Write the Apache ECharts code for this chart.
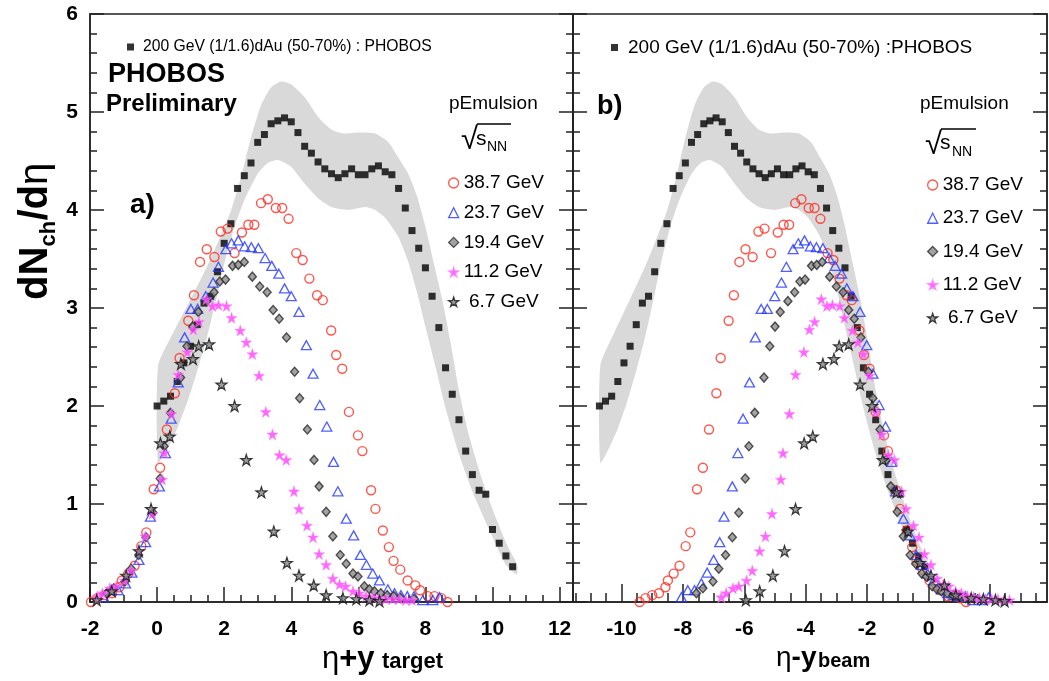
<!DOCTYPE html>
<html><head><meta charset="utf-8">
<script src="https://cdn.jsdelivr.net/npm/echarts@6/dist/echarts.min.js"></script>
<style>html,body{margin:0;padding:0;background:#fff}#c{width:1049px;height:681px}</style>
</head><body><div id="c"></div><script>
// ---------------- DATA (x in eta + y_target) ----------------
const dAuX = [0.0,0.2,0.4,0.6,0.8,1.0,1.2,1.4,1.6,1.8,2.0,2.2,2.4,2.6,2.8,3.0,3.2,3.4,3.6,3.8,4.0,4.2,4.4,4.6,4.8,5.0,5.2,5.4,5.6,5.8,6.0,6.2,6.4,6.6,6.8,7.0,7.2,7.4,7.6,7.8,8.0,8.2,8.4,8.6,8.8,9.0,9.2,9.4,9.6,9.8,10.0,10.2,10.4,10.6];
const dAuY = [2.00,2.05,2.10,2.25,2.44,2.61,2.83,3.05,3.12,3.37,3.66,3.86,4.22,4.35,4.48,4.69,4.77,4.88,4.91,4.94,4.90,4.79,4.65,4.58,4.49,4.42,4.37,4.33,4.37,4.42,4.36,4.36,4.42,4.45,4.39,4.36,4.22,4.02,3.79,3.61,3.41,3.12,2.80,2.39,2.12,1.86,1.54,1.30,1.14,1.10,0.74,0.60,0.47,0.36];
const bandUpper = [[0.03,2.41],[0.5,2.76],[1.0,3.09],[1.5,3.43],[1.9,3.74],[2.2,3.99],[2.5,4.33],[2.8,4.74],[3.1,5.07],[3.4,5.25],[3.7,5.31],[4.0,5.28],[4.4,5.15],[4.8,4.95],[5.2,4.82],[5.6,4.78],[6.0,4.79],[6.5,4.78],[6.9,4.69],[7.2,4.53],[7.5,4.36],[7.75,4.14],[8.0,3.83],[8.25,3.46],[8.5,3.09],[8.75,2.65],[9.0,2.16],[9.3,1.70],[9.7,1.24],[10.1,0.86],[10.45,0.57],[10.74,0.38]];
const bandLower = [[0.03,1.42],[0.3,1.56],[0.6,1.77],[0.9,2.04],[1.2,2.36],[1.5,2.72],[1.8,3.14],[2.05,3.52],[2.3,3.82],[2.6,4.10],[3.0,4.37],[3.3,4.48],[3.6,4.51],[4.0,4.44],[4.4,4.27],[4.8,4.12],[5.2,4.03],[5.7,4.00],[6.2,4.03],[6.5,4.00],[6.8,3.92],[7.2,3.72],[7.5,3.46],[7.75,3.16],[8.0,2.81],[8.3,2.40],[8.6,1.98],[9.0,1.51],[9.4,1.13],[9.9,0.74],[10.4,0.38],[10.72,0.28]];
const em387 = [[-1.97,0.00],[-1.78,0.04],[-1.56,0.07],[-1.34,0.09],[-1.13,0.15],[-1.05,0.22],[-0.86,0.29],[-0.67,0.37],[-0.47,0.57],[-0.32,0.71],[-0.10,1.15],[0.09,1.37],[0.29,1.76],[0.53,2.13],[0.67,2.49],[0.93,2.87],[1.10,3.13],[1.28,3.47],[1.48,3.60],[1.71,3.52],[1.90,3.78],[2.10,3.81],[2.31,3.56],[2.53,3.77],[2.72,3.85],[2.90,3.85],[3.10,4.07],[3.30,4.11],[3.54,4.02],[3.73,4.02],[3.92,3.91],[4.15,3.56],[4.34,3.49],[4.54,3.30],[4.77,3.13],[4.94,3.08],[5.19,2.77],[5.34,2.52],[5.52,2.38],[5.72,1.94],[5.99,1.70],[6.12,1.54],[6.38,1.14],[6.51,0.95],[6.73,0.73],[6.91,0.56],[7.05,0.42],[7.25,0.33],[7.47,0.22],[7.70,0.17],[7.84,0.12],[8.07,0.06],[8.27,0.06],[8.47,0.04],[8.66,0.00]];
const em237 = [[-1.59,0.05],[-1.38,0.12],[-1.16,0.12],[-0.94,0.19],[-0.75,0.30],[-0.54,0.43],[-0.34,0.61],[-0.20,0.87],[0.07,1.18],[0.25,1.52],[0.42,1.87],[0.63,2.24],[0.82,2.70],[1.01,2.99],[1.21,2.99],[1.45,3.12],[1.67,3.26],[1.83,3.42],[2.05,3.60],[2.22,3.66],[2.42,3.69],[2.61,3.63],[2.81,3.62],[3.02,3.61],[3.22,3.51],[3.42,3.43],[3.63,3.35],[3.80,3.20],[4.00,3.12],[4.23,2.96],[4.45,2.62],[4.65,2.33],[4.85,2.01],[5.06,1.79],[5.26,1.43],[5.39,1.13],[5.64,0.85],[5.86,0.68],[6.06,0.48],[6.24,0.38],[6.43,0.29],[6.63,0.22],[6.88,0.13],[7.08,0.09],[7.27,0.07],[7.46,0.06],[7.66,0.06],[7.92,0.02],[8.22,0.02],[8.42,0.05]];
const em194 = [[-1.50,0.09],[-1.29,0.14],[-0.96,0.21],[-0.77,0.34],[-0.55,0.48],[-0.33,0.66],[-0.12,0.91],[0.09,1.26],[0.21,1.59],[0.40,1.93],[0.70,2.29],[0.89,2.61],[1.06,2.81],[1.23,2.96],[1.48,3.07],[1.70,3.16],[1.87,3.27],[2.04,3.29],[2.25,3.43],[2.42,3.44],[2.60,3.47],[2.84,3.32],[3.06,3.22],[3.28,3.16],[3.46,2.98],[3.64,2.89],[3.86,2.70],[4.10,2.35],[4.25,2.08],[4.48,1.76],[4.68,1.45],[4.83,1.18],[5.04,0.92],[5.24,0.67],[5.46,0.48],[5.64,0.39],[5.84,0.29],[5.99,0.26],[6.18,0.16],[6.33,0.13],[6.48,0.11],[6.67,0.09],[6.86,0.07],[7.06,0.06],[7.26,0.04],[7.66,0.03]];
const em112 = [[-1.79,0.05],[-1.63,0.09],[-1.41,0.14],[-1.22,0.16],[-0.97,0.22],[-0.78,0.32],[-0.54,0.52],[-0.35,0.67],[-0.14,0.90],[0.15,1.25],[0.22,1.52],[0.43,1.92],[0.63,2.32],[0.90,2.55],[1.08,2.78],[1.25,2.86],[1.47,3.09],[1.65,3.02],[1.83,3.03],[2.07,3.02],[2.22,2.90],[2.48,2.77],[2.66,2.65],[2.84,2.53],[3.04,2.31],[3.24,1.94],[3.44,1.71],[3.65,1.50],[3.85,1.45],[4.08,1.13],[4.23,0.95],[4.47,0.78],[4.65,0.66],[4.83,0.49],[5.04,0.38],[5.24,0.24],[5.44,0.18],[5.62,0.16],[5.84,0.11],[6.03,0.09],[6.23,0.06],[6.43,0.05],[6.62,0.04],[6.82,0.03],[7.02,0.03],[7.22,0.03],[7.42,0.02],[7.60,0.02]];
const em67 = [[-1.80,0.02],[-1.35,0.11],[-0.92,0.27],[-0.54,0.52],[-0.18,0.95],[0.10,1.62],[0.38,1.69],[0.71,2.43],[1.07,2.48],[1.24,2.61],[1.55,2.63],[1.92,2.22],[2.31,2.00],[2.66,1.45],[3.11,1.12],[3.48,0.72],[3.87,0.40],[4.23,0.27],[4.67,0.17],[5.04,0.07],[5.54,0.04],[5.94,0.03],[6.33,0.02],[6.63,0.01]];
const energies = ['38.7 GeV','23.7 GeV','19.4 GeV','11.2 GeV','6.7 GeV'];
const emData = {'38.7 GeV':em387,'23.7 GeV':em237,'19.4 GeV':em194,'11.2 GeV':em112,'6.7 GeV':em67};
// offset between eta+y_target and eta-y_beam (= beam rapidity in target frame)
const shiftDAu = 10.72;
const shiftEm = {'38.7 GeV':7.44,'23.7 GeV':6.46,'19.4 GeV':6.06,'11.2 GeV':4.96,'6.7 GeV':4.15};
const leftMajor = [-2,0,2,4,6,8,10,12];
const leftMinor = [-1.5,-1,-0.5,0.5,1,1.5,2.5,3,3.5,4.5,5,5.5,6.5,7,7.5,8.5,9,9.5,10.5,11,11.5];
const rightMajor = [-10,-8,-6,-4,-2,0,2];
const rightMinor = [-11.5,-11,-10.5,-9.5,-9,-8.5,-7.5,-7,-6.5,-5.5,-5,-4.5,-3.5,-3,-2.5,-1.5,-1,-0.5,0.5,1,1.5,2.5,3,3.5];

// ---------------- CHART ----------------
const FONT = '"Liberation Sans", Arial, Helvetica, sans-serif';
const LS = {color:'#222', width:1.5};
const STAR = 'path://M50,0 L61.2,34.5 L97.6,34.5 L68.2,55.9 L79.4,90.5 L50,69.1 L20.6,90.5 L31.8,55.9 L2.4,34.5 L38.8,34.5 Z';
const markStyle = {
  '38.7 GeV': {symbol:'circle', size:9, itemStyle:{color:'rgba(255,255,255,0)', borderColor:'#ff2a1f', borderWidth:1.4}},
  '23.7 GeV': {symbol:'triangle', size:[10,9], itemStyle:{color:'rgba(255,255,255,0)', borderColor:'#2236ff', borderWidth:1.3}},
  '19.4 GeV': {symbol:'diamond', size:[8,9], itemStyle:{color:'#8c8c8c', borderColor:'#2a2a2a', borderWidth:1.4}},
  '11.2 GeV': {symbol:STAR, size:11, itemStyle:{color:'#ff40ff', borderColor:'#ff80ff', borderWidth:0.6}},
  '6.7 GeV': {symbol:STAR, size:11, itemStyle:{color:'#858585', borderColor:'#111', borderWidth:1.2}}
};
function xAxes(grid, min, max, major, minor, tickLen, minLen){
  return [
    {type:'value', gridIndex:grid, min:min, max:max, position:'bottom',
     axisLine:{show:true, onZero:false, lineStyle:LS},
     axisTick:{show:true, inside:true, length:tickLen, lineStyle:LS, customValues:major},
     axisLabel:{show:true, customValues:major, fontSize:21, fontWeight:'bold', fontFamily:FONT, color:'#000', margin:17},
     splitLine:{show:false}},
    {type:'value', gridIndex:grid, min:min, max:max, position:'bottom',
     axisLine:{show:false, onZero:false},
     axisTick:{show:true, inside:true, length:minLen, lineStyle:LS, customValues:minor},
     axisLabel:{show:false}, splitLine:{show:false}}
  ];
}
function yAx(grid, pos, labels){
  return {type:'value', gridIndex:grid, position:pos, min:0, max:6, interval:1,
    axisLine:{show:true, onZero:false, lineStyle:LS},
    axisTick:{show:true, inside:true, length:14, lineStyle:LS},
    minorTick:{show:true, splitNumber:5, length:7, lineStyle:LS},
    splitLine:{show:false}, minorSplitLine:{show:false},
    axisLabel:{show:labels, fontSize:21, fontWeight:'bold', fontFamily:FONT, color:'#000', margin:12}};
}
function bandSeries(xi, yi, shift){
  return {type:'custom', name:'band', xAxisIndex:xi, yAxisIndex:yi, z:1, silent:true, data:[[0,1]],
    renderItem:function(params, api){
      const pts = bandUpper.map(p=>api.coord([p[0]-shift,p[1]]))
        .concat(bandLower.slice().reverse().map(p=>api.coord([p[0]-shift,p[1]])));
      return {type:'polygon', shape:{points:pts, smooth:0.2}, style:{fill:'#d9d9d9'}};
    }};
}
const series = [];
[[0,0,0],[2,2,shiftDAu]].forEach(function(cfg){
  series.push(bandSeries(cfg[0], cfg[1], cfg[2]));
  series.push({type:'scatter', name:'dAu', xAxisIndex:cfg[0], yAxisIndex:cfg[1], z:3, symbol:'rect', symbolSize:7,
    itemStyle:{color:'#000'}, data:dAuX.map((x,i)=>[+(x-cfg[2]).toFixed(3), dAuY[i]])});
});
energies.forEach(function(e, k){
  const st = markStyle[e];
  [[0,0,0],[2,2,shiftEm[e]]].forEach(function(cfg){
    series.push({type:'scatter', name:e, xAxisIndex:cfg[0], yAxisIndex:cfg[1], z:4+k,
      symbol:st.symbol, symbolSize:st.size, itemStyle:st.itemStyle,
      data:emData[e].map(p=>[+(p[0]-cfg[2]).toFixed(3), p[1]])});
  });
});
const legendText = {fontSize:19, fontFamily:FONT, color:'#000', lineHeight:20};
const option = {
  animation:false,
  textStyle:{fontFamily:FONT},
  grid:[
    {left:90, top:14, width:483, height:588, show:true, borderColor:'#222', borderWidth:1.5},
    {left:573, top:14, width:474, height:588, show:true, borderColor:'#222', borderWidth:1.5}
  ],
  xAxis: xAxes(0,-2,12.4,leftMajor,leftMinor,15,7).concat(xAxes(1,-11.58,3.86,rightMajor,rightMinor,18,9)),
  yAxis: [yAx(0,'left',true), yAx(0,'right',false), yAx(1,'left',false), yAx(1,'right',false)],
  legend:[
    {data:['dAu'], left:127, top:38, padding:0, itemWidth:7, itemHeight:7, selectedMode:false,
     formatter:function(){return '200 GeV (1/1.6)dAu (50-70%) : PHOBOS';},
     textStyle:{fontSize:15.7, fontFamily:FONT, color:'#000', lineHeight:18, padding:[0,0,0,4]}},
    {data:['dAu'], left:611, top:38, padding:0, itemWidth:7, itemHeight:7, selectedMode:false,
     formatter:function(){return '200 GeV (1/1.6)dAu (50-70%) :PHOBOS';},
     textStyle:{fontSize:19, fontFamily:FONT, color:'#000', lineHeight:18, padding:[0,0,0,5]}},
    {data:energies, orient:'vertical', left:448, top:173, padding:0, itemWidth:10, itemHeight:10, itemGap:9.7,
     selectedMode:false, itemStyle:{borderWidth:1.3},
     formatter:function(n){return n==='6.7 GeV' ? ' 6.7 GeV' : n;}, textStyle:legendText},
    {data:energies, orient:'vertical', left:927, top:175, padding:0, itemWidth:10, itemHeight:10, itemGap:13.25,
     selectedMode:false, itemStyle:{borderWidth:1.3},
     formatter:function(n){return n==='6.7 GeV' ? ' 6.7 GeV' : n;}, textStyle:legendText}
  ],
  graphic:[
    {type:'text', x:108, y:75, style:{text:'PHOBOS', font:'bold 27px '+FONT, fill:'#000', verticalAlign:'middle'}},
    {type:'text', x:106, y:104, style:{text:'Preliminary', font:'bold 24px '+FONT, fill:'#000', verticalAlign:'middle'}},
    {type:'text', x:130, y:205, style:{text:'a)', font:'bold 28px '+FONT, fill:'#000', verticalAlign:'middle'}},
    {type:'text', x:597, y:107, style:{text:'b)', font:'bold 27px '+FONT, fill:'#000', verticalAlign:'middle'}},
    {type:'text', x:449, y:104, style:{text:'pEmulsion', font:'19px '+FONT, fill:'#000', verticalAlign:'middle'}},
    {type:'text', x:920, y:104, style:{text:'pEmulsion', font:'19px '+FONT, fill:'#000', verticalAlign:'middle'}},
    // sqrt(s_NN) left
    {type:'text', x:461, y:140, style:{text:'√', font:'31px '+FONT, fill:'#000', verticalAlign:'middle'}},
    {type:'text', x:476, y:139, style:{text:'s', font:'21px '+FONT, fill:'#000', verticalAlign:'middle'}},
    {type:'text', x:487, y:147, style:{text:'NN', font:'14px '+FONT, fill:'#000', verticalAlign:'middle'}},
    {type:'line', shape:{x1:477, y1:124, x2:511, y2:124}, style:{stroke:'#000', lineWidth:1.3}},
    // sqrt(s_NN) right
    {type:'text', x:925, y:145, style:{text:'√', font:'31px '+FONT, fill:'#000', verticalAlign:'middle'}},
    {type:'text', x:940, y:143, style:{text:'s', font:'21px '+FONT, fill:'#000', verticalAlign:'middle'}},
    {type:'text', x:952, y:152, style:{text:'NN', font:'14px '+FONT, fill:'#000', verticalAlign:'middle'}},
    {type:'line', shape:{x1:941, y1:129, x2:976, y2:129}, style:{stroke:'#000', lineWidth:1.3}},
    // x titles
    {type:'text', x:322, y:659, style:{text:'{e|η}{b|+y}', verticalAlign:'middle',
      rich:{e:{font:'31px '+FONT, fill:'#000'}, b:{font:'bold 31px '+FONT, fill:'#000'}}}},
    {type:'text', x:382, y:662, style:{text:'target', font:'bold 22px '+FONT, fill:'#000', verticalAlign:'middle'}},
    {type:'text', x:776, y:658, style:{text:'{e|η}{b|-y}', verticalAlign:'middle',
      rich:{e:{font:'28px '+FONT, fill:'#000'}, b:{font:'bold 28px '+FONT, fill:'#000'}}}},
    {type:'text', x:818, y:661, style:{text:'beam', font:'bold 20px '+FONT, fill:'#000', verticalAlign:'middle'}},
    // y title (rotated, reads bottom to top)
    {type:'group', x:50, y:300, rotation:Math.PI/2, children:[
      {type:'text', x:0, y:-14, style:{text:'dN', font:'bold 40px '+FONT, fill:'#000', verticalAlign:'middle'}},
      {type:'text', x:53.5, y:-1.5, style:{text:'ch', font:'bold 22px '+FONT, fill:'#000', verticalAlign:'middle'}},
      {type:'text', x:79.5, y:-14, style:{text:'/d', font:'bold 40px '+FONT, fill:'#000', verticalAlign:'middle'}},
      {type:'text', x:115, y:-14, style:{text:'η', font:'40px '+FONT, fill:'#000', verticalAlign:'middle'}}
    ]}
  ],
  series: series
};
// xAxis indexes: 0 major-left, 1 minor-left, 2 major-right, 3 minor-right
const chart = echarts.init(document.getElementById('c'), null, {renderer:'canvas'});
chart.setOption(option);
</script></body></html>
